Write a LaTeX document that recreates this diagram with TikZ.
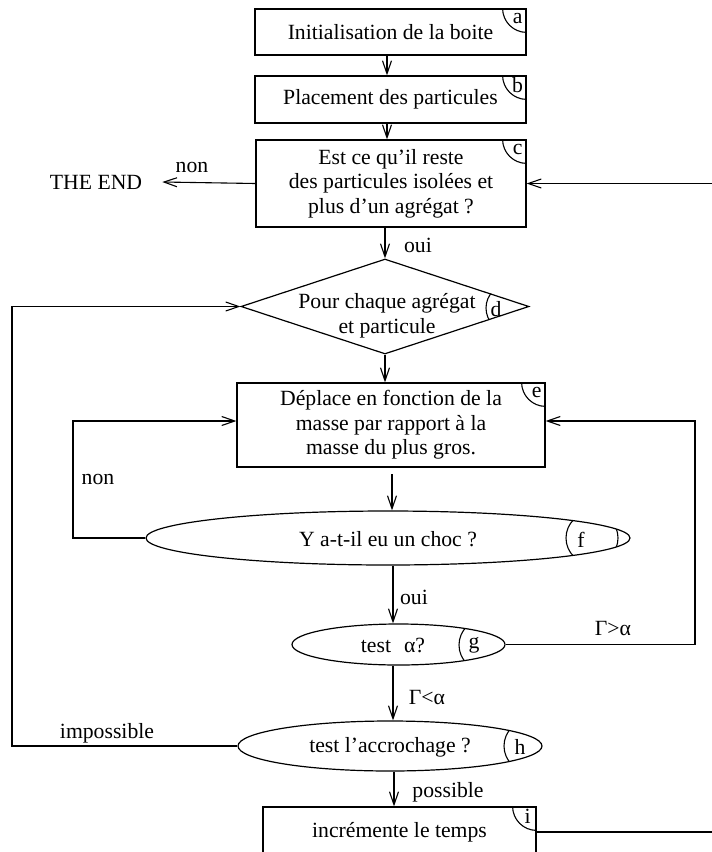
\documentclass[tikz,border=0pt]{standalone}
\usepackage{fontspec}
\setmainfont{Liberation Serif}
\usetikzlibrary{arrows.meta,shapes.geometric}
\newcommand\mainfs{\fontsize{21.7}{24.5}\selectfont}
\tikzset{
  box/.style={draw, line width=1.2pt, rectangle, inner sep=0pt, align=center},
  ovalbox/.style={draw, line width=1.2pt, ellipse, inner sep=0pt},
  ln/.style={line width=1.1pt},
  arr/.style={line width=1.1pt, -{Straight Barb[length=13pt,width=9pt,line width=1.1pt]}},
  txt/.style={inner sep=0pt, align=center},
  tag/.style={inner sep=0pt},
}
\begin{document}
\begin{tikzpicture}[x=1pt,y=-1pt,font=\mainfs]
\useasboundingbox (0,0) rectangle (712,852);
\fill[white] (0,0) rectangle (712,852);
\clip (0,0) rectangle (712,852);

% boxes
\node[box, minimum width=271pt, minimum height=46pt] (a) at (390.5,32) {Initialisation de la boite};
\node[box, minimum width=271pt, minimum height=47pt] (b) at (390.5,99.5) {Placement des particules};
\node[box, minimum width=270pt, minimum height=87pt] (c) at (391,183.5) {Est ce qu’il reste\\des particules isolées et\\plus d’un agrégat ?};
\node[draw, line width=1.2pt, diamond, minimum width=288pt, minimum height=95pt, inner sep=0pt] (d) at (385,306.5) {};
\node[txt] (dt) at (387,316) {Pour chaque agrégat\\et particule};
\node[box, minimum width=308pt, minimum height=84pt] (e) at (391,425) {Déplace en fonction de la\\masse par rapport à la\\masse du plus gros.};
\node[ovalbox, minimum width=484pt, minimum height=54pt] (f) at (388,538) {};
\node[txt] (ft) at (388,539) {Y a-t-il eu un choc ?};
\node[ovalbox, minimum width=213pt, minimum height=41pt] (g) at (398.5,644.5) {};
\node[txt] (gt) at (393,645) {test\hspace{0.6em}α?};
\node[ovalbox, minimum width=304pt, minimum height=50pt] (h) at (390,746) {};
\node[txt] (ht) at (390,747) {test l’accrochage ?};
\node[box, minimum width=273pt, minimum height=50pt] (i) at (399.5,832) {incrémente le temps};

% corner tags on boxes
\foreach \n in {a,b,c,e,i}{
  \begin{scope}
    \clip (\n.south west) rectangle (\n.north east);
    \draw[ln] (\n.north east) circle[radius=24pt];
  \end{scope}
  \node[tag] at ([xshift=-9pt,yshift=-10pt]\n.north east) {\n};
}
% tags on diamond and ellipses
\begin{scope}\clip (d.north) -- (d.east) -- (d.south) -- (d.west) -- cycle;
  \draw[ln] (510,308) circle[radius=24pt];\end{scope}
\node[tag] (dl) at (496,309) {d};
\begin{scope}\clip (f.center) ellipse[x radius=242pt, y radius=27pt];
  \draw[ln] (592,538) circle[radius=26pt];\end{scope}
\node[tag] (fl) at (581,540) {f};
\begin{scope}\clip (g.center) ellipse[x radius=106.5pt, y radius=20.5pt];
  \draw[ln] (485,645) circle[radius=26pt];\end{scope}
\node[tag] (gl) at (474,645) {g};
\begin{scope}\clip (h.center) ellipse[x radius=152pt, y radius=25pt];
  \draw[ln] (530,746) circle[radius=26pt];\end{scope}
\node[tag] (hl) at (520,747) {h};

% text labels
\node[txt] (end) at (96,182) {THE END};
\node[txt] (non1) at (192,167) {non};
\node[txt] (oui1) at (418,245) {oui};
\node[txt] (non2) at (98,479) {non};
\node[txt] (oui2) at (414,597) {oui};
\node[txt] (gsup) at (613,628) {Γ>α};
\node[txt] (ginf) at (427,697) {Γ<α};
\node[txt] (imp) at (107,733) {impossible};
\node[txt] (pos) at (448,792) {possible};

% helper coordinates
\coordinate (lx) at (12,0);
\coordinate (ll) at (73,0);
\coordinate (rl) at (695,0);
\coordinate (rx) at (714,0);
\coordinate (vx) at (387,0);
\coordinate (gx) at (393,0);
\coordinate (hx) at (394,0);
\coordinate (ef) at (392,474);
\coordinate (einl) at ([yshift=4pt]e.west);
\coordinate (einr) at ([yshift=4pt]e.east);

% connectors
\draw[arr] (a.south -| vx) -- (b.north -| vx);
\draw[arr] (b.south -| vx) -- (c.north -| vx);
\draw[arr] (c.south -| d.north) -- (d.north);
\draw[arr] (c.west) -- ([xshift=20pt]end.east);
\draw[arr] (i.east) -- (i.east -| rx) -- (rx |- c.east) -- (c.east);
\draw[arr] (d.south) -- (d.south |- e.north);
\draw[arr] (h.west) -- (h.west -| lx) -- (lx |- d.west) -- (d.west);
\draw[arr] (ef) -- (ef |- f.north);
\draw[arr] (f.west) -- (f.west -| ll) -- (ll |- einl) -- (einl);
\draw[arr] (f.south -| gx) -- (g.north -| gx);
\draw[arr] (g.east) -- (g.east -| rl) -- (rl |- einr) -- (einr);
\draw[arr] (g.south -| gx) -- (h.north -| gx);
\draw[arr] (h.south -| hx) -- (i.north -| hx);
\end{tikzpicture}
\end{document}
